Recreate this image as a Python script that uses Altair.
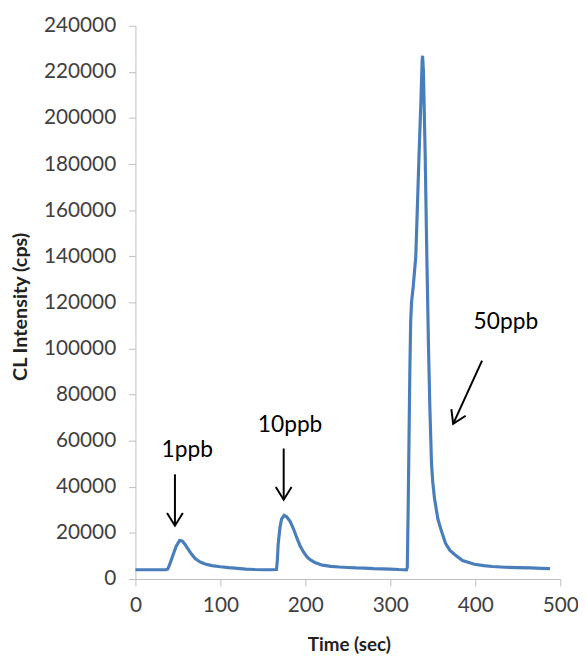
import altair as alt
import pandas as pd

# CL intensity trace
time_s = [0, 10, 20, 30, 36, 38, 40, 44, 48, 52, 55, 58, 62, 66, 70, 76, 82, 90, 100,
          110, 120, 130, 140, 150, 160, 166, 167, 168, 170, 172, 175, 178, 182, 186,
          190, 194, 198, 202, 206, 212, 220, 230, 240, 250, 260, 270, 280, 290, 300,
          310, 319, 320, 321, 322, 323, 324, 325, 327, 330, 334, 336, 337.5, 338, 339,
          341, 343, 345, 346.5, 348.5, 350, 352, 356, 360, 365, 370, 376, 385, 399,
          410, 420, 435, 450, 465, 478, 488]
intensity = [4000, 4000, 4000, 4000, 4000, 4300, 6000, 10200, 14200, 16700, 16500, 15200,
             13000, 10800, 9000, 7400, 6500, 5800, 5300,
             4900, 4600, 4300, 4100, 4000, 4000, 4100, 8000, 15000, 22000, 26000, 27600,
             27000, 25000, 21800,
             17800, 14200, 11600, 9600, 8300, 7000, 6000, 5500, 5200, 5000, 4800, 4700,
             4500, 4400, 4300,
             4100, 4000, 5000, 30000, 60000, 90000, 112000, 120000, 127000, 140000, 186000,
             207000, 225000, 227000, 220000,
             185000, 140000, 100000, 75000, 50000, 42000, 35000, 26000, 21000, 15500,
             12500, 10500, 8000, 6400,
             5800, 5400, 5100, 4900, 4800, 4600, 4500]

# annotations
label_text = ["1ppb", "10ppb", "50ppb"]
label_x = [61, 182, 436]
label_y = [53100, 63900, 108400]

arrow_x_start = [46.5, 174.5, 408]
arrow_y_start = [45400, 56600, 94700]
arrow_x_tip = [46.5, 174.5, 374]
arrow_y_tip = [23100, 34400, 67300]
arrow_angle = [0, 0, 25]

x_ticks = [0, 100, 200, 300, 400, 500]
y_ticks = list(range(0, 240001, 20000))

trace = pd.DataFrame({"t": time_s, "v": intensity})
labels = pd.DataFrame({"text": label_text, "x": label_x, "y": label_y})
arrows = pd.DataFrame({"x": arrow_x_start, "y": arrow_y_start,
                       "x2": arrow_x_tip, "y2": arrow_y_tip, "angle": arrow_angle})

font = "Lato"
xs = alt.Scale(domain=[0, 500], nice=False)
ys = alt.Scale(domain=[0, 240000], nice=False)

line = alt.Chart(trace).mark_line(color="#4a7ebb", strokeWidth=3.2).encode(
    x=alt.X("t:Q", scale=xs, axis=alt.Axis(
        title="Time (sec)", values=x_ticks, grid=False, format="d", labelFlush=False,
        domainColor="#bfbfbf", tickColor="#bfbfbf", tickSize=7, labelPadding=9,
        labelFont=font, labelFontSize=21, labelColor="#404040",
        titleFont=font, titleFontSize=19, titleFontWeight="bold", titleColor="#222222",
        titleX=216, titleY=66, titleBaseline="middle", titleAlign="center")),
    y=alt.Y("v:Q", scale=ys, axis=alt.Axis(
        title="CL Intensity (cps)", values=y_ticks, grid=False, format="d", labelFlush=False,
        domainColor="#bfbfbf", tickColor="#bfbfbf", tickSize=7, labelPadding=13,
        labelFont=font, labelFontSize=21, labelColor="#404040",
        titleFont=font, titleFontSize=20, titleFontWeight="bold", titleColor="#222222",
        titleX=-116, titleY=284, titleBaseline="middle", titleAlign="center")),
)

shafts = alt.Chart(arrows).mark_rule(color="black", strokeWidth=2).encode(
    x=alt.X("x:Q", scale=xs), y=alt.Y("y:Q", scale=ys),
    x2="x2:Q", y2="y2:Q",
)

heads = alt.Chart(arrows).mark_point(
    shape="M-1,-1.6L0,0L1,-1.6", filled=False, color="black", strokeWidth=2,
    size=256, opacity=1,
).encode(
    x=alt.X("x2:Q", scale=xs), y=alt.Y("y2:Q", scale=ys),
    angle=alt.Angle("angle:Q", scale=None),
)

texts = alt.Chart(labels).mark_text(
    font=font, fontSize=23, color="black", align="center", baseline="alphabetic",
).encode(
    x=alt.X("x:Q", scale=xs), y=alt.Y("y:Q", scale=ys), text="text:N",
)

chart = alt.layer(line, shafts, heads, texts).properties(
    width=430, height=560,
    autosize=alt.AutoSizeParams(type="none"),
    padding={"left": 129, "top": 14, "right": 18, "bottom": 77},
).configure_view(stroke=None)

chart.save("out.html", embed_options={"renderer": "svg", "actions": False})
